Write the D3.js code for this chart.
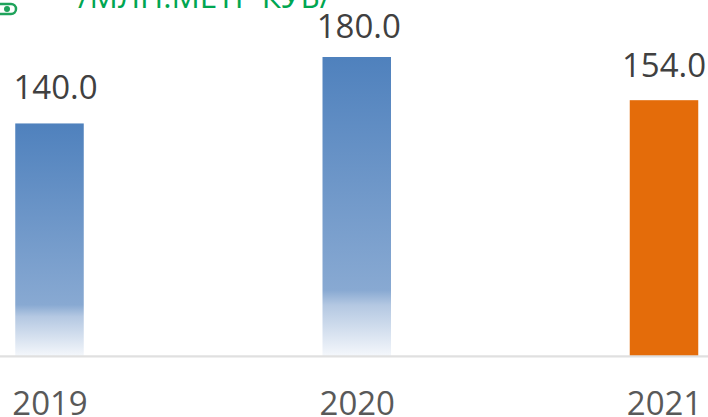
<!DOCTYPE html>
<html>
<head>
<meta charset="utf-8">
<script src="https://cdn.jsdelivr.net/npm/d3@7"></script>
<style>
  html, body { margin: 0; padding: 0; background: #fff; overflow: hidden; }
  svg { display: block; }
</style>
</head>
<body>
<script>
const years = ['2019', '2020', '2021']
const values = [140.0, 180.0, 154.0]
const barColors = ['url(#fade)', 'url(#fade)', '#e46c0a']
const unitLabel = '/МЛН.МЕТР КУБ/'

// the labels were nudged by hand in the original
const labelDx = [6, 2, 0]
const labelDy = [24, 19, 23]

const width = 708
const height = 417
const font = '"Open Sans", sans-serif'

const svg = d3.select('body').append('svg')
  .attr('width', width)
  .attr('height', height)

const grad = svg.append('defs').append('linearGradient')
  .attr('id', 'fade')
  .attr('x1', 0).attr('y1', 0).attr('x2', 0).attr('y2', 1)
grad.selectAll('stop')
  .data([[0, '#4f81bd'], [0.78, '#88a9d2'], [0.83, '#b4c8e2'], [1, '#f4f7fb']])
  .join('stop')
  .attr('offset', d => d[0])
  .attr('stop-color', d => d[1])

const x = d3.scalePoint().domain(years).range([49.5, 664])
const y = d3.scaleLinear().domain([0, 180]).range([356, 57])
const barWidth = 68.5

svg.selectAll('rect.bar')
  .data(years)
  .join('rect')
  .attr('class', 'bar')
  .attr('x', d => x(d) - barWidth / 2)
  .attr('width', barWidth)
  .attr('y', (d, i) => y(values[i]))
  .attr('height', (d, i) => y(0) - y(values[i]))
  .attr('fill', (d, i) => barColors[i])

// value labels
svg.selectAll('text.value')
  .data(years)
  .join('text')
  .attr('class', 'value')
  .attr('x', (d, i) => x(d) + labelDx[i])
  .attr('y', (d, i) => y(values[i]) - labelDy[i])
  .attr('text-anchor', 'middle')
  .attr('font-family', font)
  .attr('font-size', 33)
  .attr('fill', '#404040')
  .text((d, i) => values[i].toFixed(1))

// x axis
const axis = svg.append('g')
  .attr('transform', `translate(0, ${y(0)})`)
  .call(d3.axisBottom(x).tickSize(0))
axis.select('.domain').remove()
axis.append('line')
  .attr('x1', 0).attr('x2', width)
  .attr('y1', 0.4).attr('y2', 0.4)
  .attr('stroke', '#e0e0e0')
  .attr('stroke-width', 2.4)
axis.selectAll('.tick text')
  .attr('y', 59)
  .attr('dy', 0)
  .attr('font-family', font)
  .attr('font-size', 33)
  .attr('fill', '#595959')

// title cut off by the top edge
svg.append('text')
  .attr('x', 78)
  .attr('y', 8)
  .attr('font-family', font)
  .attr('font-size', 31.5)
  .attr('fill', '#00a651')
  .text(unitLabel)

// bit of the icon, also cut off
svg.append('rect')
  .attr('x', -12).attr('y', 4)
  .attr('width', 28).attr('height', 10)
  .attr('rx', 5)
  .attr('fill', 'none')
  .attr('stroke', '#1fa35b')
  .attr('stroke-width', 2.5)
svg.append('circle')
  .attr('cx', 7).attr('cy', 9).attr('r', 3)
  .attr('fill', '#1fa35b')
</script>
</body>
</html>
